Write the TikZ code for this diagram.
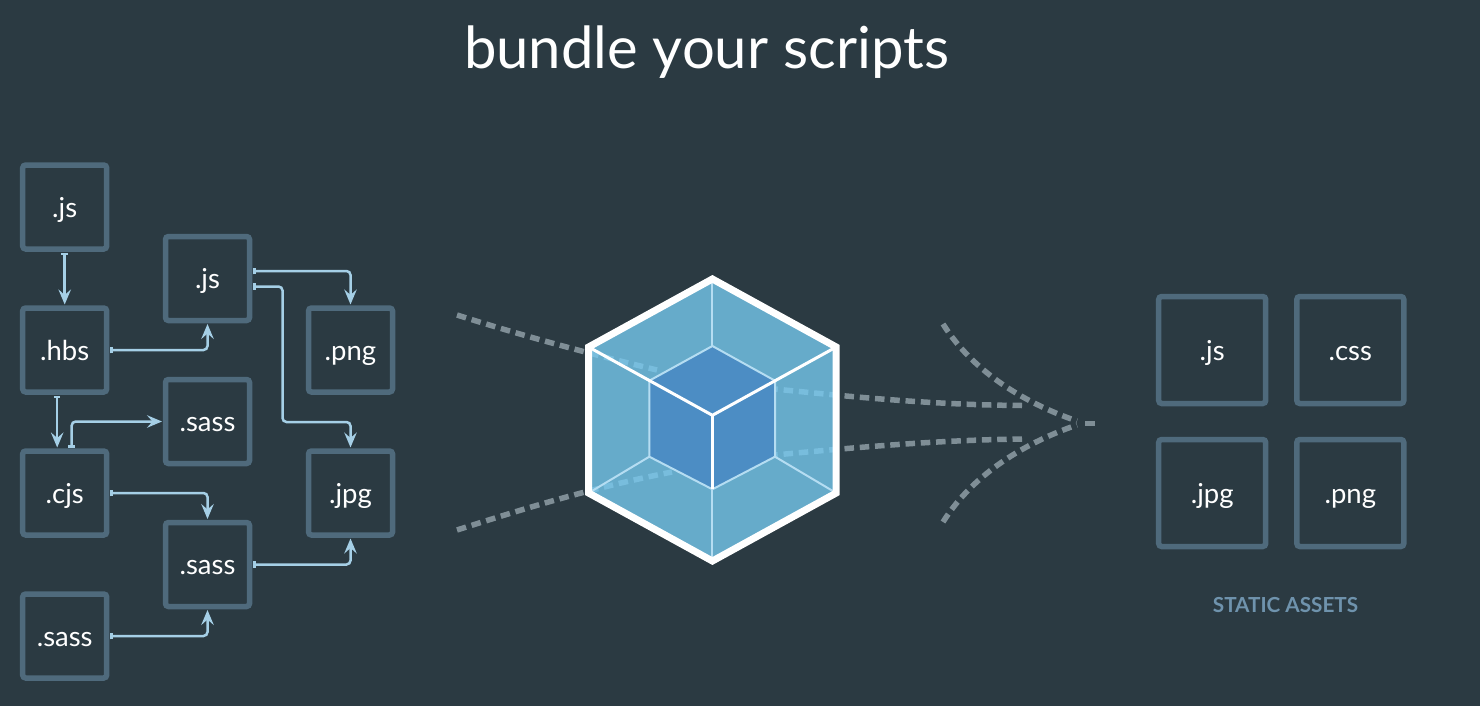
\documentclass[tikz,border=0pt]{standalone}
\usepackage{fontspec}
\setmainfont{Lato}
\usetikzlibrary{arrows.meta}
\definecolor{bgc}{HTML}{2B3A42}
\definecolor{boxc}{HTML}{4F6A7C}
\definecolor{wirec}{HTML}{A5CFE6}
\definecolor{dashc}{HTML}{7F8E96}
\definecolor{dashin}{HTML}{78BDDD}
\definecolor{hexc}{HTML}{66ABCA}
\definecolor{cubec}{HTML}{4C8DC4}
\definecolor{thinc}{HTML}{B5DDF2}
\definecolor{assetc}{HTML}{6F93AD}
\tikzset{
  srcbox/.style={draw=boxc,line width=5.5pt,rounded corners=3pt,minimum size=84pt,inner sep=0pt,outer sep=3.5pt,
    text=white,font=\fontsize{27.5}{27.5}\selectfont,text height=20pt,text depth=0pt},
  outbox/.style={srcbox,minimum size=107pt},
  wire/.style={draw=wirec,line width=2.5pt,rounded corners=4pt,
    {Bar[width=6.5pt,length=2pt]}-{Stealth[length=15pt,width=12.5pt,inset=5.5pt]}},
  dashline/.style={line width=5.5pt,dash pattern=on 9.5pt off 5.8pt},
  thin edge/.style={draw=thinc,line width=2pt},
  white edge/.style={draw=white,line width=3pt},
}
\begin{document}
\begin{tikzpicture}[x=1pt,y=-1pt]
\useasboundingbox (0,0) rectangle (1480,706);
\fill[bgc] (0,0) rectangle (1480,706);
\node[text=white,font=\fontsize{58}{58}\selectfont,anchor=base] (title) at (706.5,69) {bundle your scripts};

\node[srcbox] (a1) at (64.7,207) {.js};
\node[srcbox] (a2) at (64.7,350) {.hbs};
\node[srcbox] (a3) at (64.7,493) {.cjs};
\node[srcbox] (a4) at (64.7,636) {.sass};
\node[srcbox] (b1) at (207.5,278.5) {.js};
\node[srcbox] (b2) at (207.5,421.5) {.sass};
\node[srcbox] (b3) at (207.5,564.5) {.sass};
\node[srcbox] (c1) at (350.5,350) {.png};
\node[srcbox] (c2) at (350.5,493) {.jpg};
\coordinate (bend) at (282.5,422);

\draw[wire] (a1.south) -- (a2.north);
\draw[wire] (a2.east) -| (b1.south);
\draw[wire] ([yshift=7.5pt]b1.east) -| (c1.north);
\draw[wire] ([yshift=-8pt]b1.east) -| (bend) -| (c2.north);
\draw[wire] ([xshift=-7.5pt]a2.south) -- ([xshift=-7.5pt]a3.north);
\draw[wire] ([xshift=7pt]a3.north) |- (b2.west);
\draw[wire] (a3.east) -| (b3.north);
\draw[wire] (b3.east) -| (c2.south);
\draw[wire] (a4.east) -| (b3.south);

\def\pathA{(457,315) .. controls (520,335) and (590,354) .. (657,370)}
\def\pathB{(457,530) .. controls (520,510) and (590,488) .. (672,472)}
\def\pathC{(1022,405.5) .. controls (950,405) and (880,400) .. (775,389)}
\def\pathD{(1022,439) .. controls (950,440) and (880,445) .. (775,455)}
\draw[dashc,dashline] \pathA;
\draw[dashc,dashline] \pathB;
\draw[dashc,dashline] \pathC;
\draw[dashc,dashline] \pathD;
\draw[dashc,dashline] (943,324) .. controls (975,375) and (1030,405) .. (1077,421);
\draw[dashc,dashline] (943,522) .. controls (975,471) and (1030,441) .. (1077,425);
\draw[dashc,line width=5.5pt] (1085,423.3) -- (1095,423.3);

\coordinate (ht) at (712.4,279);
\coordinate (hr1) at (836.2,347);
\coordinate (hr2) at (836.2,493);
\coordinate (hb) at (712.4,561);
\coordinate (hl2) at (588.6,493);
\coordinate (hl1) at (588.6,347);
\fill[hexc] (ht) -- (hr1) -- (hr2) -- (hb) -- (hl2) -- (hl1) -- cycle;
\begin{scope}
\clip (ht) -- (hr1) -- (hr2) -- (hb) -- (hl2) -- (hl1) -- cycle;
\draw[dashin,dashline] \pathA;
\draw[dashin,dashline] \pathB;
\draw[dashin,dashline] \pathC;
\draw[dashin,dashline] \pathD;
\end{scope}
\coordinate (ct) at (712.4,346);
\coordinate (cr1) at (775,380.7);
\coordinate (cr2) at (775,456.7);
\coordinate (cb) at (712.4,489.3);
\coordinate (cl2) at (649.3,456.7);
\coordinate (cl1) at (649.3,380.7);
\coordinate (cc) at (712.4,415.3);
\draw[thin edge,fill=cubec] (ct) -- (cr1) -- (cr2) -- (cb) -- (cl2) -- (cl1) -- cycle;
\draw[thin edge] (ht) -- (ct);
\draw[thin edge] (cb) -- (hb);
\draw[thin edge] (cl2) -- (hl2);
\draw[thin edge] (cr2) -- (hr2);
\draw[white edge] (hl1) -- (cc) -- (hr1);
\draw[white edge] (cc) -- (cb);
\draw[draw=white,line width=7pt,line join=miter] (ht) -- (hr1) -- (hr2) -- (hb) -- (hl2) -- (hl1) -- cycle;

\node[outbox] (d1) at (1212.2,350) {.js};
\node[outbox] (d2) at (1350.3,350) {.css};
\node[outbox] (d3) at (1212.2,493) {.jpg};
\node[outbox] (d4) at (1350.3,493) {.png};
\node[text=assetc,font=\fontsize{20.7}{20.7}\selectfont\bfseries,anchor=base] (lbl) at (1285.5,612) {STATIC ASSETS};
\end{tikzpicture}
\end{document}
